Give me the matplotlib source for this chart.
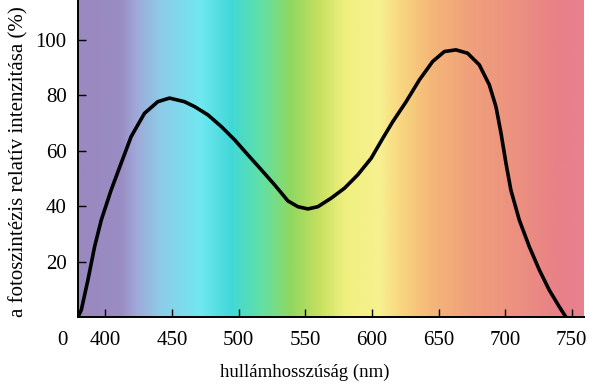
import numpy as np
import matplotlib
matplotlib.use("Agg")
import matplotlib.pyplot as plt
from matplotlib.colors import LinearSegmentedColormap

# hullámhossz (nm) és relatív intenzitás (%)
wavelength = [379.5, 382, 387, 392, 397, 404.4, 411.9, 419.4, 429.4, 439.4,
              448.2, 459.4, 467.1, 477.1, 487.1, 497.1, 507.0, 517.1, 527.0, 537.0,
              544.5, 552.0, 559.5, 569.5, 579.5, 589.4, 599.5, 608.2, 615.7, 625.7,
              635.7, 645.6, 654.4, 663.1, 671.8, 680.6, 688.1, 693.1, 696.9, 700.6,
              704.3, 710.6, 718.1, 725.6, 733.1, 740.6, 745.5]
intensity = [0, 2.5, 13.4, 25.4, 35.0, 45.8, 55.5, 65.1, 73.5, 77.7,
             79.0, 77.7, 75.9, 72.9, 68.7, 63.9, 58.5, 53.1, 47.7, 41.9,
             39.8, 39.0, 39.8, 42.9, 46.5, 51.3, 57.3, 64.5, 70.5, 77.7,
             85.6, 92.2, 95.8, 96.4, 95.2, 91.0, 83.8, 75.9, 66.3, 55.5,
             45.8, 35.0, 25.4, 17.0, 9.7, 3.7, 0]

xticks = [400, 450, 500, 550, 600, 650, 700, 750]
yticks = [20, 40, 60, 80, 100]

# színkép háttér színei
spec_nm = [379.4, 411, 422, 441, 471, 494, 516, 539, 561, 580, 606, 621, 644, 674, 711, 741, 759]
spec_col = ["#9a88c0", "#9a8cc4", "#a0a8d8", "#8ccce8", "#70e8f0", "#40d8d8", "#60e0a8",
            "#90d860", "#c8e060", "#f0f080", "#f8f090", "#f8d880", "#f5b878", "#f0a07c",
            "#ec9080", "#e88088", "#e88090"]

xmin, xmax = 379.4, 759
ymin, ymax = 0, 114.4

plt.rcParams['font.family'] = ['Liberation Serif', 'DejaVu Serif']

fig = plt.figure(figsize=(6, 3.91), dpi=100)
ax = fig.add_axes([0.1297, 0.1893, 0.8433, 0.8107])

stops = [(n - xmin) / (xmax - xmin) for n in spec_nm]
cmap = LinearSegmentedColormap.from_list("spec", list(zip(stops, spec_col)))
grad = np.linspace(0, 1, 500).reshape(1, -1)
ax.imshow(grad, cmap=cmap, aspect='auto', extent=[xmin, xmax, ymin, ymax], zorder=0)

ax.plot(wavelength, intensity, color='black', linewidth=2.6,
        solid_capstyle='round', solid_joinstyle='round', zorder=3)

ax.set_xlim(xmin, xmax)
ax.set_ylim(ymin, ymax)
ax.set_xticks(xticks)
ax.set_yticks(yticks)
ax.tick_params(direction='in', length=6, width=1, labelsize=15, color='black')
ax.tick_params(axis='x', pad=10)
ax.tick_params(axis='y', pad=8)

ax.spines['top'].set_visible(False)
ax.spines['right'].set_visible(False)
ax.spines['left'].set_linewidth(1.4)
ax.spines['bottom'].set_linewidth(1.4)

ax.text(-0.031, -0.075, "0", transform=ax.transAxes, fontsize=15, ha='center', va='center')

ax.set_xlabel("hullámhosszúság (nm)", fontsize=13.5)
ax.xaxis.set_label_coords(0.449, -0.148)
ax.set_ylabel("a fotoszintézis relatív intenzitása (%)", fontsize=15)
ax.yaxis.set_label_coords(-0.098, 0.49)

fig.savefig("out.png", dpi=100)
